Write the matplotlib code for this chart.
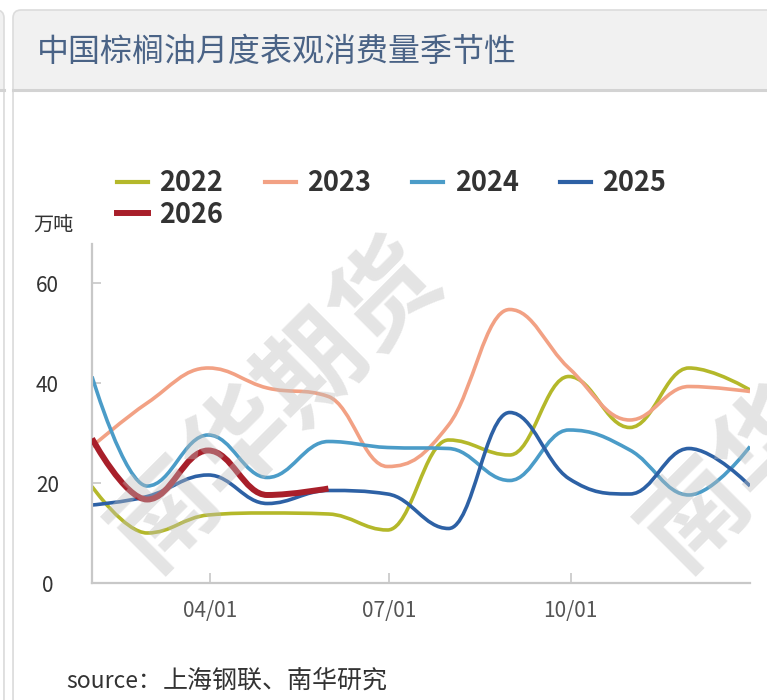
import numpy as np
import pandas as pd
import matplotlib
matplotlib.use("Agg")
import matplotlib.pyplot as plt
import matplotlib.dates as mdates
from matplotlib.path import Path
from matplotlib.patches import PathPatch, FancyBboxPatch, Rectangle
from matplotlib.lines import Line2D

plt.rcParams['font.family'] = ['Noto Sans CJK SC', 'DejaVu Sans']

# month-end points, plotted on a common (non-leap) year
dates = ["01-31", "02-28", "03-31", "04-30", "05-31", "06-30",
         "07-31", "08-31", "09-30", "10-31", "11-30", "12-31"]
years = ["2022", "2023", "2024", "2025", "2026"]
colors = ["#b4b82a", "#f2a184", "#4b9cc8", "#2d61a5", "#a81f2a"]

v2022 = [19.3, 10.0, 13.6, 14.0, 13.8, 10.6, 28.6, 25.6, 41.3, 31.1, 43.0, 38.6]
v2023 = [27.3, 36.0, 43.0, 39.0, 37.3, 23.3, 31.6, 54.7, 43.0, 32.6, 39.3, 38.3]
v2024 = [41.3, 19.4, 29.6, 21.1, 28.3, 27.1, 26.9, 20.5, 30.6, 26.6, 17.6, 27.3]
v2025 = [15.6, 17.3, 21.6, 15.9, 18.5, 17.8, 10.9, 34.1, 20.9, 17.8, 26.9, 19.4]
v2026 = [28.9, 16.7, 26.5, 17.6, 18.9]
series = [v2022, v2023, v2024, v2025, v2026]

yticks = [0, 20, 40, 60]
xtick_dates = ["04-01", "07-01", "10-01"]
xtick_labels = ["04/01", "07/01", "10/01"]


def spline_path(x, y):
    # highcharts-style spline: bezier with flattened extremes
    n = len(x)
    lc = [None] * n
    rc = [None] * n
    for i in range(n):
        if i == 0 or i == n - 1:
            lc[i] = (x[i], y[i])
            rc[i] = (x[i], y[i])
            continue
        s, d = 1.5, 2.5
        lx = (s * x[i] + x[i - 1]) / d
        ly = (s * y[i] + y[i - 1]) / d
        rx = (s * x[i] + x[i + 1]) / d
        ry = (s * y[i] + y[i + 1]) / d
        corr = ((ry - ly) * (rx - x[i])) / (rx - lx) + y[i] - ry
        ly += corr
        ry += corr
        if ly > y[i - 1] and ly > y[i]:
            ly = max(y[i - 1], y[i]); ry = 2 * y[i] - ly
        elif ly < y[i - 1] and ly < y[i]:
            ly = min(y[i - 1], y[i]); ry = 2 * y[i] - ly
        if ry > y[i + 1] and ry > y[i]:
            ry = max(y[i + 1], y[i]); ly = 2 * y[i] - ry
        elif ry < y[i + 1] and ry < y[i]:
            ry = min(y[i + 1], y[i]); ly = 2 * y[i] - ry
        lc[i] = (lx, ly)
        rc[i] = (rx, ry)
    verts = [(x[0], y[0])]
    codes = [Path.MOVETO]
    for i in range(1, n):
        verts += [rc[i - 1], lc[i], (x[i], y[i])]
        codes += [Path.CURVE4] * 3
    return Path(verts, codes)


def to_num(md):
    return mdates.date2num(pd.to_datetime(["2023-" + m for m in md]))


W, H = 767, 700
fig = plt.figure(figsize=(W / 100, H / 100), dpi=100)

# card background
bg = fig.add_axes([0, 0, 1, 1], zorder=0)
bg.set_xlim(0, W)
bg.set_ylim(H, 0)
bg.axis("off")
bg.add_patch(FancyBboxPatch((-30, 10), 34, 760, boxstyle="round,pad=0,rounding_size=8",
                            fc="#f1f1f1", ec="#dcdcdc", lw=1.2))
bg.add_patch(Rectangle((-30, 90), 33.3, 620, fc="white", ec="none"))
bg.plot([-30, 4], [89.5, 89.5], color="#d3d3d3", lw=2.2)
bg.add_patch(FancyBboxPatch((13, 10), 800, 760, boxstyle="round,pad=0,rounding_size=8",
                            fc="#f1f1f1", ec="#dcdcdc", lw=1.2))
bg.add_patch(Rectangle((13.7, 90), 800, 620, fc="white", ec="none"))
bg.plot([13, W], [89.5, 89.5], color="#d3d3d3", lw=2.2)

ax = fig.add_axes([92 / W, 1 - 583 / H, 658 / W, 339 / H], zorder=1)
ax.patch.set_alpha(0)

x = to_num(dates)
for vals, col, yr in zip(series, colors, years):
    lw = 4.3 if yr == "2026" else 2.6
    p = spline_path(list(x[:len(vals)]), vals)
    ax.add_patch(PathPatch(p, fill=False, ec=col, lw=lw, capstyle="butt",
                           joinstyle="round", zorder=3 if yr == "2026" else 2))

ax.set_xlim(x[0], x[-1])
ax.set_ylim(0, 67.8)
ax.set_yticks(yticks)
ax.set_yticklabels([str(t) for t in yticks], ha="center")
ax.set_xticks(to_num(xtick_dates))
ax.set_xticklabels(xtick_labels)
ax.tick_params(axis="y", direction="in", length=6.5, width=1.3, color="#cccccc",
               pad=32, labelsize=15, labelcolor="#333333")
ax.tick_params(axis="x", direction="in", length=7, width=1.3, color="#cccccc",
               pad=12, labelsize=15, labelcolor="#555555")
for s in ["top", "right"]:
    ax.spines[s].set_visible(False)
for s in ["left", "bottom"]:
    ax.spines[s].set_color("#c8c8c8")
    ax.spines[s].set_linewidth(1.6)

# legend fills column by column; order so it reads row by row
order = [0, 4, 1, 2, 3]
handles = [Line2D([], [], color=colors[i], lw=4.3 if years[i] == "2026" else 3.0) for i in order]
fig.legend(handles, [years[i] for i in order], loc="upper left",
           bbox_to_anchor=(117 / W, 1 - 169 / H),
           ncol=4, frameon=False, borderpad=0, borderaxespad=0,
           prop=dict(size=19.5, weight="bold"), labelcolor="#333333",
           handlelength=1.15, handletextpad=0.42, columnspacing=1.52, labelspacing=0.13)

fig.text(37 / W, 1 - 52 / H, "中国棕榈油月度表观消费量季节性", fontsize=23,
         color="#4a6386", va="center")
fig.text(33 / W, 1 - 226 / H, "万吨", fontsize=14.5, color="#333333", va="center")
fig.text(66 / W, 1 - 681 / H, "source：", fontsize=16.5, color="#333333", va="center")
fig.text(163 / W, 1 - 681 / H, "上海钢联、南华研究", fontsize=18, color="#333333",
         va="center", style="italic")

# watermark
for cx in [276, 806]:
    fig.text(cx / W, 1 - 404 / H, "南华期货", rotation=45, ha="center", va="center",
             fontsize=75, weight="bold", color="#bdbdbd", alpha=0.4, zorder=10)

fig.savefig("out.png", dpi=100)
